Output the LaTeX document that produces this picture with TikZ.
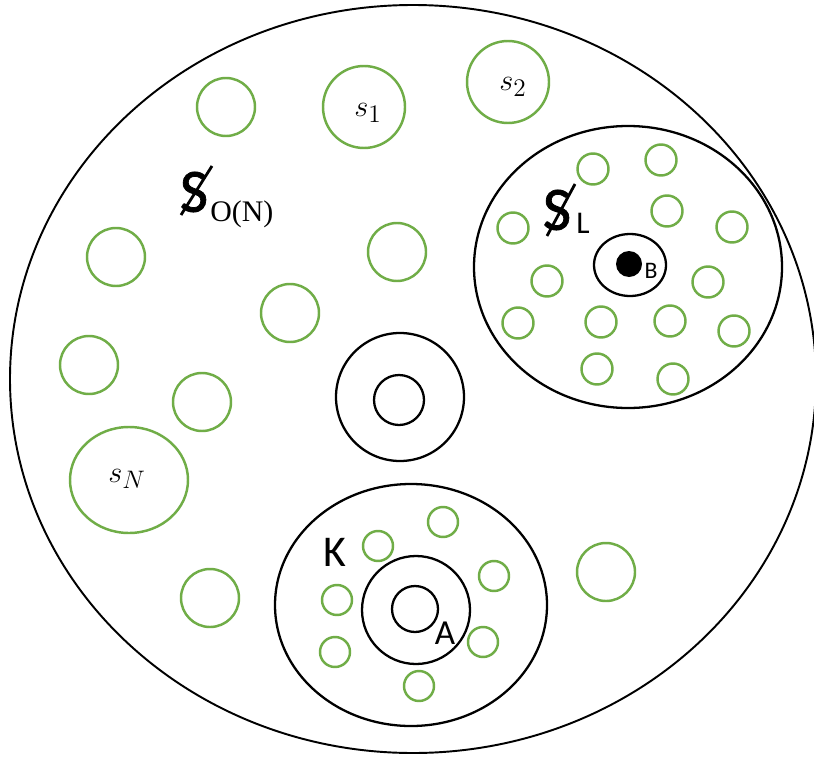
\documentclass[tikz,border=0pt]{standalone}
\usepackage{fontspec}
\newfontfamily\calibri{Carlito}
\newfontfamily\calibrivastag[FakeBold=1.2]{Carlito}
\newfontfamily\romai{Liberation Serif}
\usepackage{tikz}
\usetikzlibrary{calc}
\definecolor{zoldszin}{RGB}{112,173,71}
\tikzset{
  zold/.style={draw=zoldszin,line width=1.4pt},
  hatar/.style={draw,line width=1.3pt},
  kulso/.style={draw,line width=1.1pt},
  folt/.style={fill=black},
  vonas/.style={line width=1.6pt},
  betu/.style={inner sep=0pt,font=\calibri\fontsize{#1}{#1}\selectfont},
  nagybetu/.style={inner sep=0pt,font=\calibrivastag\fontsize{#1}{#1}\selectfont},
  romaibetu/.style={inner sep=0pt,font=\romai\fontsize{#1}{#1}\selectfont},
  kepletbetu/.style={inner sep=0pt,font=\fontsize{#1}{#1}\selectfont},
}

\begin{document}
\begin{tikzpicture}[x=0.02cm,y=-0.02cm]
  \useasboundingbox (0,0) rectangle (814,757);
  \fill[white] (0,0) rectangle (814,757);
  % the whole set
  \draw[kulso] (413,379) ellipse [x radius=403,y radius=374];

  % free green circles
  \foreach \x/\y in {226/107,116/257,397/252,290/313,89/365,202/402,210/598,606/572}
    \draw[zold] (\x,\y) circle (29);
  \draw[zold] (364,107) circle (41);
  \draw[zold] (508,82) circle (41);
  \draw[zold] (129,480) ellipse [x radius=59,y radius=53];
  \node[kepletbetu=19pt] (s1) at (368,113) {$s_1$};
  \node[kepletbetu=19pt] (s2) at (513,87) {$s_2$};
  \node[kepletbetu=19pt] (sn) at (127,479) {$s_N$};

  % S_O(N) label
  \node[nagybetu=35pt] (so) at (194,192) {S};
  \node[romaibetu=17pt,anchor=west] (son) at (210,214) {O(N)};
  \draw[vonas] ($(so)+(-13,23)$) -- ($(so)+(18,-26)$);

  % middle ring
  \draw[hatar] (400,397) circle (64);
  \draw[hatar] (399,400) circle (25);

  % S_L region
  \draw[hatar] (628,267) ellipse [x radius=154,y radius=141];
  \draw[hatar] (630,265) ellipse [x radius=36,y radius=31];
  \fill[folt] (629,264) circle (13);
  \node[betu=13.5pt] (b) at (651,271) {B};
  \node[nagybetu=35pt] (sl) at (557,210) {S};
  \node[betu=18pt] (l) at (583,223) {L};
  \draw[vonas] ($(sl)+(-10,26)$) -- ($(sl)+(18,-26)$);
  \foreach \x/\y in {593/169,661/160,513/228,667/211,732/227,547/281,708/282,
                     518/323,601/322,670/321,734/331,597/369,673/379}
    \draw[zold] (\x,\y) circle (15.5);

  % K region
  \draw[hatar] (411,605) ellipse [x radius=136,y radius=121];
  \draw[hatar] (416,610) circle (54);
  \draw[hatar] (415,609) circle (23);
  \node[betu=25pt] (k) at (335,552) {K};
  \node[betu=20pt] (a) at (445,633) {A};
  \foreach \x/\y in {443/522,378/546,494/576,337/600,483/642,335/652,419/686}
    \draw[zold] (\x,\y) circle (15);
\end{tikzpicture}
\end{document}
